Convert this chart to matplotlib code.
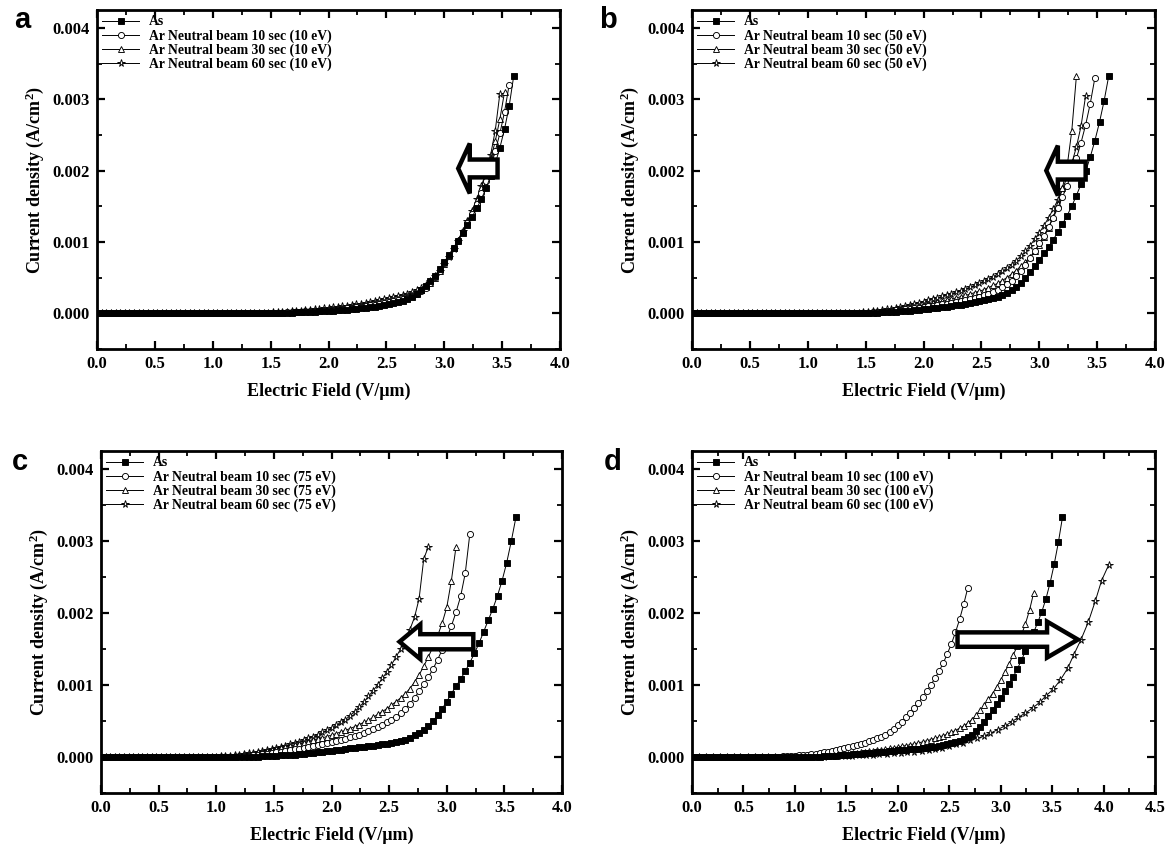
import numpy as np
import matplotlib
matplotlib.use('Agg')
import matplotlib.pyplot as plt
from matplotlib.patches import FancyArrow
from matplotlib.ticker import MultipleLocator, FormatStrFormatter

plt.rcParams['font.family'] = ['Liberation Serif', 'DejaVu Serif']
plt.rcParams['font.weight'] = 'bold'
plt.rcParams['mathtext.fontset'] = 'custom'
plt.rcParams['mathtext.rm'] = 'Liberation Serif:bold'
plt.rcParams['mathtext.bf'] = 'Liberation Serif:bold'
plt.rcParams['mathtext.it'] = 'Liberation Serif:bold:italic'

# ---------------- data (field in V/um, current density in mA/cm^2) ----------------
E_grid = [0.00, 0.04, 0.08, 0.12, 0.16, 0.20, 0.24, 0.28, 0.32, 0.36,
          0.40, 0.44, 0.48, 0.52, 0.56, 0.60, 0.64, 0.68, 0.72, 0.76,
          0.80, 0.84, 0.88, 0.92, 0.96, 1.00, 1.04, 1.08, 1.12, 1.16,
          1.20, 1.24, 1.28, 1.32, 1.36, 1.40, 1.44, 1.48, 1.52, 1.56,
          1.60, 1.64, 1.68, 1.72, 1.76, 1.80, 1.84, 1.88, 1.92, 1.96,
          2.00, 2.04, 2.08, 2.12, 2.16, 2.20, 2.24, 2.28, 2.32, 2.36,
          2.40, 2.44, 2.48, 2.52, 2.56, 2.60, 2.64, 2.68, 2.72, 2.76,
          2.80, 2.84, 2.88, 2.92, 2.96, 3.00, 3.04, 3.08, 3.12, 3.16,
          3.20, 3.24, 3.28, 3.32, 3.36, 3.40, 3.44, 3.48, 3.52, 3.56,
          3.60]

E_grid_d60 = [0.00, 0.07, 0.14, 0.20, 0.27, 0.34, 0.41, 0.47, 0.54, 0.61,
              0.68, 0.74, 0.81, 0.88, 0.95, 1.01, 1.08, 1.15, 1.22, 1.28,
              1.35, 1.42, 1.49, 1.55, 1.62, 1.69, 1.76, 1.82, 1.89, 1.96,
              2.03, 2.09, 2.16, 2.23, 2.30, 2.36, 2.43, 2.50, 2.57, 2.63,
              2.70, 2.77, 2.84, 2.90, 2.97, 3.04, 3.11, 3.17, 3.24, 3.31,
              3.38, 3.44, 3.51, 3.58, 3.65, 3.71, 3.78, 3.85, 3.92, 3.98,
              4.05]

# panel a (10 eV)
J_a_as = [0.0] * 38 + [
    0.003, 0.004, 0.006, 0.008, 0.010, 0.012, 0.015, 0.018, 0.021, 0.024,
    0.027, 0.030, 0.034, 0.038, 0.042, 0.047, 0.052, 0.058, 0.064, 0.071,
    0.078, 0.086, 0.095, 0.105, 0.116, 0.128, 0.142, 0.158, 0.177, 0.20,
    0.23, 0.27, 0.32, 0.38, 0.45, 0.53, 0.62, 0.72, 0.82, 0.92,
    1.02, 1.13, 1.24, 1.35, 1.47, 1.60, 1.75, 1.92, 2.10, 2.32,
    2.58, 2.90, 3.33]
J_a_10 = [0.0] * 36 + [
    0.002, 0.004, 0.006, 0.008, 0.010, 0.013, 0.016, 0.019, 0.022, 0.026,
    0.030, 0.034, 0.038, 0.043, 0.048, 0.053, 0.059, 0.065, 0.071, 0.078,
    0.085, 0.093, 0.101, 0.110, 0.120, 0.130, 0.141, 0.153, 0.166, 0.181,
    0.198, 0.218, 0.242, 0.27, 0.31, 0.36, 0.43, 0.51, 0.60, 0.70,
    0.80, 0.91, 1.02, 1.14, 1.26, 1.39, 1.53, 1.69, 1.86, 2.05,
    2.27, 2.52, 2.82, 3.20]
J_a_30 = [0.0] * 35 + [
    0.002, 0.004, 0.006, 0.008, 0.011, 0.014, 0.017, 0.020, 0.024, 0.028,
    0.032, 0.037, 0.042, 0.047, 0.053, 0.059, 0.065, 0.072, 0.079, 0.086,
    0.094, 0.102, 0.111, 0.120, 0.130, 0.140, 0.151, 0.163, 0.176, 0.190,
    0.205, 0.222, 0.241, 0.263, 0.29, 0.32, 0.37, 0.43, 0.50, 0.59,
    0.69, 0.80, 0.91, 1.03, 1.16, 1.29, 1.43, 1.59, 1.76, 1.95,
    2.16, 2.41, 2.72, 3.10]
J_a_60 = [0.0] * 34 + [
    0.002, 0.004, 0.006, 0.009, 0.012, 0.015, 0.019, 0.023, 0.027, 0.032,
    0.037, 0.042, 0.048, 0.054, 0.061, 0.068, 0.075, 0.083, 0.091, 0.099,
    0.108, 0.117, 0.127, 0.137, 0.148, 0.159, 0.171, 0.183, 0.196, 0.210,
    0.225, 0.241, 0.258, 0.277, 0.30, 0.33, 0.36, 0.40, 0.45, 0.52,
    0.60, 0.69, 0.79, 0.90, 1.02, 1.15, 1.29, 1.44, 1.60, 1.78,
    1.98, 2.22, 2.56, 3.08]

# panel b (50 eV)
J_b_as = [0.0] * 38 + [
    0.004, 0.006, 0.009, 0.012, 0.015, 0.018, 0.022, 0.027, 0.032, 0.038,
    0.044, 0.050, 0.057, 0.064, 0.071, 0.078, 0.086, 0.094, 0.103, 0.112,
    0.122, 0.132, 0.143, 0.155, 0.168, 0.182, 0.197, 0.214, 0.234, 0.257,
    0.285, 0.32, 0.37, 0.43, 0.50, 0.58, 0.66, 0.75, 0.84, 0.93,
    1.03, 1.14, 1.25, 1.37, 1.50, 1.65, 1.81, 1.99, 2.19, 2.42,
    2.68, 2.98, 3.33]
J_b_10 = [0.0] * 36 + [
    0.003, 0.006, 0.010, 0.014, 0.018, 0.023, 0.028, 0.034, 0.040, 0.047,
    0.054, 0.062, 0.070, 0.078, 0.087, 0.096, 0.105, 0.115, 0.125, 0.135,
    0.146, 0.158, 0.171, 0.185, 0.20, 0.216, 0.234, 0.254, 0.277, 0.303,
    0.333, 0.37, 0.41, 0.46, 0.52, 0.60, 0.68, 0.77, 0.87, 0.98,
    1.09, 1.21, 1.34, 1.48, 1.63, 1.79, 1.97, 2.17, 2.39, 2.64,
    2.94, 3.30]
J_b_30 = [0.0] * 35 + [
    0.003, 0.006, 0.010, 0.015, 0.020, 0.026, 0.032, 0.039, 0.047, 0.055,
    0.064, 0.073, 0.083, 0.094, 0.105, 0.117, 0.129, 0.142, 0.155, 0.169,
    0.184, 0.199, 0.215, 0.232, 0.250, 0.269, 0.289, 0.31, 0.33, 0.36,
    0.39, 0.42, 0.46, 0.50, 0.55, 0.60, 0.66, 0.72, 0.79, 0.87,
    0.96, 1.07, 1.20, 1.35, 1.53, 1.76, 2.06, 2.55, 3.32]
J_b_60 = [0.0] * 34 + [
    0.002, 0.005, 0.009, 0.014, 0.020, 0.027, 0.035, 0.044, 0.054, 0.065,
    0.077, 0.090, 0.104, 0.118, 0.133, 0.149, 0.165, 0.182, 0.199, 0.217,
    0.236, 0.255, 0.275, 0.296, 0.318, 0.341, 0.365, 0.39, 0.42, 0.45,
    0.48, 0.51, 0.55, 0.59, 0.63, 0.68, 0.74, 0.80, 0.87, 0.95,
    1.04, 1.13, 1.23, 1.34, 1.46, 1.59, 1.74, 1.91, 2.10, 2.33,
    2.62, 3.05]

# panel c (75 eV)
J_c_as = [0.0] * 32 + [
    0.002, 0.004, 0.006, 0.008, 0.011, 0.014, 0.017, 0.021, 0.025, 0.029,
    0.034, 0.039, 0.044, 0.050, 0.056, 0.063, 0.070, 0.078, 0.086, 0.094,
    0.102, 0.110, 0.118, 0.126, 0.134, 0.142, 0.150, 0.158, 0.167, 0.176,
    0.186, 0.197, 0.209, 0.223, 0.239, 0.27, 0.30, 0.33, 0.38, 0.43,
    0.50, 0.58, 0.67, 0.77, 0.88, 0.98, 1.08, 1.19, 1.31, 1.44,
    1.58, 1.74, 1.90, 2.06, 2.24, 2.45, 2.70, 3.00, 3.33]
J_c_10 = [0.0] * 28 + [
    0.003, 0.006, 0.010, 0.015, 0.020, 0.026, 0.033, 0.040, 0.048, 0.056,
    0.065, 0.074, 0.084, 0.094, 0.105, 0.116, 0.128, 0.140, 0.152, 0.165,
    0.178, 0.192, 0.206, 0.221, 0.237, 0.254, 0.272, 0.291, 0.311, 0.333,
    0.357, 0.383, 0.41, 0.44, 0.48, 0.52, 0.56, 0.61, 0.67, 0.74,
    0.82, 0.91, 1.01, 1.11, 1.22, 1.35, 1.49, 1.65, 1.82, 2.01,
    2.23, 2.55, 3.10]
J_c_30 = [0.0] * 24 + [
    0.002, 0.005, 0.008, 0.012, 0.017, 0.023, 0.030, 0.037, 0.045, 0.054,
    0.064, 0.074, 0.085, 0.097, 0.109, 0.122, 0.136, 0.150, 0.165, 0.180,
    0.196, 0.212, 0.229, 0.247, 0.265, 0.284, 0.304, 0.325, 0.347, 0.370,
    0.394, 0.42, 0.45, 0.48, 0.51, 0.55, 0.59, 0.63, 0.67, 0.72,
    0.77, 0.82, 0.88, 0.95, 1.04, 1.14, 1.26, 1.39, 1.53, 1.68,
    1.86, 2.08, 2.45, 2.92]
J_c_60 = [0.0] * 24 + [
    0.003, 0.006, 0.010, 0.014, 0.019, 0.025, 0.032, 0.040, 0.049, 0.059,
    0.070, 0.082, 0.095, 0.109, 0.124, 0.140, 0.157, 0.175, 0.194, 0.214,
    0.235, 0.257, 0.28, 0.31, 0.34, 0.37, 0.40, 0.44, 0.48, 0.52,
    0.57, 0.63, 0.69, 0.76, 0.84, 0.92, 1.00, 1.09, 1.18, 1.28,
    1.39, 1.50, 1.63, 1.77, 1.94, 2.20, 2.75, 2.92]

# panel d (100 eV)
J_d_as = [0.0] * 30 + [
    0.003, 0.006, 0.009, 0.012, 0.015, 0.019, 0.023, 0.027, 0.031, 0.035,
    0.040, 0.045, 0.050, 0.055, 0.060, 0.065, 0.070, 0.075, 0.080, 0.085,
    0.090, 0.095, 0.100, 0.105, 0.110, 0.116, 0.122, 0.129, 0.136, 0.144,
    0.153, 0.163, 0.175, 0.189, 0.205, 0.224, 0.247, 0.275, 0.31, 0.36,
    0.42, 0.49, 0.57, 0.65, 0.74, 0.82, 0.91, 1.01, 1.11, 1.22,
    1.34, 1.47, 1.60, 1.73, 1.87, 2.02, 2.20, 2.42, 2.68, 2.98,
    3.33]
J_d_10 = [0.0] * 20 + [
    0.002, 0.004, 0.007, 0.010, 0.014, 0.018, 0.023, 0.028, 0.034, 0.040,
    0.047, 0.055, 0.063, 0.072, 0.082, 0.093, 0.105, 0.118, 0.132, 0.147,
    0.163, 0.180, 0.198, 0.217, 0.237, 0.258, 0.28, 0.31, 0.35, 0.39,
    0.44, 0.49, 0.55, 0.61, 0.68, 0.75, 0.83, 0.91, 1.00, 1.09,
    1.19, 1.30, 1.43, 1.57, 1.73, 1.91, 2.12, 2.35]
J_d_30 = [0.0] * 28 + [
    0.002, 0.005, 0.008, 0.011, 0.015, 0.019, 0.023, 0.028, 0.033, 0.038,
    0.044, 0.050, 0.056, 0.063, 0.070, 0.077, 0.085, 0.093, 0.101, 0.110,
    0.119, 0.128, 0.138, 0.148, 0.159, 0.170, 0.182, 0.195, 0.209, 0.224,
    0.240, 0.257, 0.275, 0.295, 0.317, 0.341, 0.367, 0.40, 0.43, 0.47,
    0.52, 0.58, 0.65, 0.72, 0.80, 0.88, 0.97, 1.07, 1.18, 1.29,
    1.41, 1.54, 1.69, 1.85, 2.04, 2.28]
J_d_60 = [0.0] * 18 + [
    0.003, 0.006, 0.009, 0.012, 0.016, 0.020, 0.024, 0.028, 0.033, 0.038,
    0.043, 0.049, 0.056, 0.064, 0.073, 0.083, 0.095, 0.108, 0.13, 0.15,
    0.175, 0.20, 0.23, 0.26, 0.29, 0.33, 0.38, 0.43, 0.49, 0.55,
    0.61, 0.68, 0.76, 0.85, 0.94, 1.07, 1.23, 1.42, 1.63, 1.87,
    2.17, 2.45, 2.67]

series_labels = ['As', 'Ar Neutral beam 10 sec ({e} eV)',
                 'Ar Neutral beam 30 sec ({e} eV)', 'Ar Neutral beam 60 sec ({e} eV)']
panel_energy = {'a': '10', 'b': '50', 'c': '75', 'd': '100'}
panel_series = {
    'a': [(E_grid, J_a_as), (E_grid, J_a_10), (E_grid, J_a_30), (E_grid, J_a_60)],
    'b': [(E_grid, J_b_as), (E_grid, J_b_10), (E_grid, J_b_30), (E_grid, J_b_60)],
    'c': [(E_grid, J_c_as), (E_grid, J_c_10), (E_grid, J_c_30), (E_grid, J_c_60)],
    'd': [(E_grid, J_d_as), (E_grid, J_d_10), (E_grid, J_d_30), (E_grid_d60, J_d_60)],
}
x_max = {'a': 4.0, 'b': 4.0, 'c': 4.0, 'd': 4.5}

# ---------------- styling / layout ----------------
styles = [dict(marker='s', mfc='black', ms=3.8),
          dict(marker='o', mfc='white', ms=4.4),
          dict(marker='^', mfc='white', ms=4.6),
          dict(marker='*', mfc='white', ms=5.4)]

positions = {'a': [0.083, 0.5894, 0.3961, 0.3988],
             'b': [0.592, 0.5894, 0.3961, 0.3988],
             'c': [0.0864, 0.0671, 0.3944, 0.4024],
             'd': [0.592, 0.0671, 0.3961, 0.4024]}
letter_pos = {'a': (0.019, 0.976), 'b': (0.520, 0.976),
              'c': (0.017, 0.456), 'd': (0.524, 0.456)}
# hollow arrows: (tail x, tip x, y [A/cm2], shaft width, head width, head length)
arrows = {'a': (3.46, 3.12, 2.03e-3, 0.25e-3, 0.70e-3, 0.10),
          'b': (3.40, 3.06, 2.00e-3, 0.25e-3, 0.70e-3, 0.10),
          'c': (3.23, 2.59, 1.60e-3, 0.21e-3, 0.48e-3, 0.18),
          'd': (2.58, 3.75, 1.63e-3, 0.20e-3, 0.50e-3, 0.30)}

fig = plt.figure(figsize=(11.69, 8.5), dpi=100)

for key in ['a', 'b', 'c', 'd']:
    ax = fig.add_axes(positions[key])
    e = panel_energy[key]
    for i, (xs, ys) in enumerate(panel_series[key]):
        n = len(ys)
        x = np.array(xs[:n])
        y = np.array(ys) * 1e-3
        st = styles[i]
        ax.plot(x, y, color='black', lw=0.7, marker=st['marker'], ms=st['ms'],
                mfc=st['mfc'], mec='black', mew=0.65,
                label=series_labels[i].format(e=e), zorder=3 + (3 - i) * 0.1)
    xt, xh, yc, sw, hw, hl = arrows[key]
    arr = FancyArrow(xt, yc, xh - xt, 0.0, width=sw, head_width=hw, head_length=hl,
                     length_includes_head=True, facecolor='white', edgecolor='black',
                     linewidth=3.2, zorder=6, joinstyle='miter')
    ax.add_patch(arr)

    ax.set_xlim(0, x_max[key])
    ax.set_ylim(-0.0005, 0.00425)
    ax.xaxis.set_major_locator(MultipleLocator(0.5))
    ax.xaxis.set_minor_locator(MultipleLocator(0.25))
    ax.yaxis.set_major_locator(MultipleLocator(0.001))
    ax.yaxis.set_minor_locator(MultipleLocator(0.0005))
    ax.xaxis.set_major_formatter(FormatStrFormatter('%.1f'))
    ax.yaxis.set_major_formatter(FormatStrFormatter('%.3f'))
    ax.tick_params(which='both', direction='in', top=True, right=True)
    ax.tick_params(which='major', length=6, width=1.6, labelsize=12, pad=5)
    ax.tick_params(which='minor', length=3.5, width=1.3)
    for sp in ax.spines.values():
        sp.set_linewidth(2.0)
    for lab in ax.get_xticklabels() + ax.get_yticklabels():
        lab.set_fontweight('bold')
    ax.set_xlabel('Electric Field (V/\u03bcm)', fontsize=13, fontweight='bold', labelpad=8)
    ax.set_ylabel(r'Current density (A/cm$^{\mathbf{2}}$)', fontsize=13, fontweight='bold',
                  labelpad=5)
    leg = ax.legend(loc='upper left', frameon=False, fontsize=9.8, handlelength=2.7,
                    handletextpad=0.7, labelspacing=0.05, borderaxespad=0.2,
                    borderpad=0.2, numpoints=1)
    for t in leg.get_texts():
        t.set_fontweight('bold')
    fig.text(letter_pos[key][0], letter_pos[key][1], key, fontsize=21, fontweight='bold',
             family=['Liberation Sans', 'DejaVu Sans'], ha='center', va='center')

fig.savefig('out.png', dpi=100)
